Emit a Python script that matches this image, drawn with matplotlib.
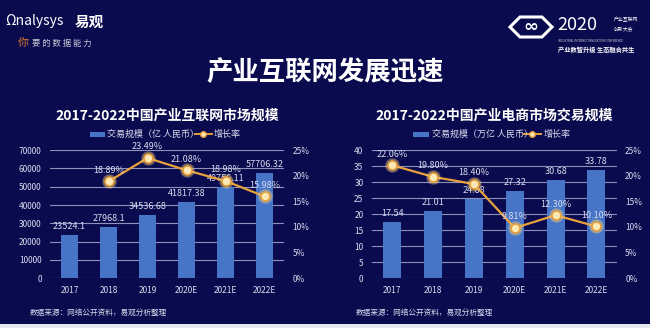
import matplotlib
matplotlib.use("Agg")
import matplotlib.pyplot as plt
from matplotlib.patches import Rectangle, Polygon
import numpy as np

plt.rcParams['font.family'] = ['Noto Sans CJK SC', 'DejaVu Sans']

years = ['2017', '2018', '2019', '2020E', '2021E', '2022E']

# 产业互联网市场规模 (亿 人民币)
iot_values = [23524.1, 27968.1, 34536.68, 41817.38, 49756.11, 57706.32]
iot_labels = ['23524.1', '27968.1', '34536.68', '41817.38', '49756.11', '57706.32']
iot_growth = [None, 18.89, 23.49, 21.08, 18.98, 15.98]

# 产业电商市场交易规模 (万亿 人民币)
ec_values = [17.54, 21.01, 24.88, 27.32, 30.68, 33.78]
ec_labels = ['17.54', '21.01', '24.88', '27.32', '30.68', '33.78']
ec_growth = [22.06, 19.80, 18.40, 9.81, 12.30, 10.10]

BG = '#0a0b4e'
BAR = '#4674c6'
LINE = '#e9a23b'
TXT = '#d8dbee'
GRID = '#8d92bd'

W, H = 650, 328
fig = plt.figure(figsize=(6.5, 3.28), dpi=100)
fig.patch.set_facecolor(BG)

# light strip at bottom edge
fig.patches.append(Rectangle((0, 0), 1, 0.013, transform=fig.transFigure,
                             facecolor='#e6e8f0', edgecolor='none', zorder=0))


def draw_panel(rect, values, labels, growth, ymax, ystep, title, unit):
    ax = fig.add_axes(rect)
    ax.set_facecolor(BG)
    x = np.arange(len(years))
    ax.bar(x, values, width=0.44, color=BAR, zorder=2)
    ax.set_xlim(-0.5, len(years) - 0.5)
    ax.set_ylim(0, ymax)
    ax.set_yticks(np.arange(0, ymax + 1e-9, ystep))
    ax.yaxis.grid(True, color=GRID, linewidth=0.8, zorder=0)
    ax.set_axisbelow(True)
    ax.set_xticks(x)
    ax.set_xticklabels(years)
    for s in ax.spines.values():
        s.set_visible(False)
    ax.tick_params(length=0, colors=TXT, labelsize=6, pad=6)
    for xi, v, lab in zip(x, values, labels):
        ax.text(xi, v + ymax * 0.03, lab, ha='center', va='bottom',
                color=TXT, fontsize=6.5, zorder=5)

    ax2 = ax.twinx()
    ax2.set_ylim(0, 25)
    ax2.set_yticks([0, 5, 10, 15, 20, 25])
    ax2.set_yticklabels(['0%', '5%', '10%', '15%', '20%', '25%'])
    for s in ax2.spines.values():
        s.set_visible(False)
    ax2.tick_params(length=0, colors=TXT, labelsize=6, pad=6)
    gx = [xi for xi, g in zip(x, growth) if g is not None]
    gy = [g for g in growth if g is not None]
    ax2.plot(gx, gy, color=LINE, linewidth=1.6, zorder=3)
    ax2.plot(gx, gy, 'o', color='#ffd98a', markersize=9.5, alpha=0.3, zorder=4)
    ax2.plot(gx, gy, 'o', markerfacecolor='#fde9b5', markeredgecolor=LINE,
             markeredgewidth=1.2, markersize=6.5, zorder=5)
    for xi, g in zip(gx, gy):
        ax2.text(xi, g + 1.3, f'{g:.2f}%', ha='center', va='bottom',
                 color=TXT, fontsize=6.5, zorder=6)

    ax.text(0.5, 1.27, title, transform=ax.transAxes, ha='center', va='center',
            color='white', fontsize=10, fontweight='bold')
    # legend
    ax.add_patch(Rectangle((0.17, 1.105), 0.065, 0.04, transform=ax.transAxes,
                           facecolor=BAR, edgecolor='none', clip_on=False))
    ax.text(0.245, 1.125, unit, transform=ax.transAxes, ha='left', va='center',
            color=TXT, fontsize=6.5)
    ax.plot([0.62, 0.69], [1.125, 1.125], color=LINE, linewidth=1.4,
            transform=ax.transAxes, clip_on=False)
    ax.plot([0.655], [1.125], 'o', markerfacecolor='#fde9b5', markeredgecolor=LINE,
            markersize=4, transform=ax.transAxes, clip_on=False)
    ax.text(0.70, 1.125, '增长率', transform=ax.transAxes, ha='left', va='center',
            color=TXT, fontsize=6.5)
    return ax


draw_panel([0.077, 0.152, 0.36, 0.39], iot_values, iot_labels, iot_growth,
           70000, 10000, '2017-2022中国产业互联网市场规模', '交易规模（亿 人民币）')
draw_panel([0.572, 0.152, 0.377, 0.39], ec_values, ec_labels, ec_growth,
           40, 5, '2017-2022中国产业电商市场交易规模', '交易规模（万亿 人民币）')

# main title
fig.text(0.5, 0.78, '产业互联网发展迅速', ha='center', va='center',
         color='white', fontsize=19, fontweight='bold')

# sources
fig.text(0.045, 0.045, '数据来源：网络公开资料，易观分析整理', ha='left', va='center',
         color=TXT, fontsize=5.5)
fig.text(0.548, 0.045, '数据来源：网络公开资料，易观分析整理', ha='left', va='center',
         color=TXT, fontsize=5.5)

# top-left logo
fig.text(0.008, 0.935, 'Ωnalysys', ha='left', va='center', color='white',
         fontsize=10, style='italic')
fig.text(0.115, 0.935, '易观', ha='left', va='center', color='white',
         fontsize=10.5, fontweight='bold')
fig.text(0.028, 0.868, '你', ha='left', va='center', color='#d9782a',
         fontsize=8, style='italic')
fig.text(0.05, 0.868, '要 的 数 据 能 力', ha='left', va='center', color='#c9c9d6',
         fontsize=6, style='italic')

# top-right logo
cx, cy = 531, 27
hexagon = [(-21, 0), (-11, -10), (11, -10), (21, 0), (11, 10), (-11, 10)]
fig.patches.append(Polygon([((cx + dx) / W, 1 - (cy + dy) / H) for dx, dy in hexagon],
                           closed=True, transform=fig.transFigure,
                           facecolor='none', edgecolor='white', linewidth=2.2))
fig.text(cx / W, 1 - cy / H, '∞', ha='center', va='center', color='white',
         fontsize=13, fontweight='bold', family=['DejaVu Sans'])
fig.text(0.858, 0.925, '2020', ha='left', va='center', color='white', fontsize=13)
fig.text(0.945, 0.94, '产业互联网', ha='left', va='center', color='white', fontsize=3.5)
fig.text(0.945, 0.912, '创新大会', ha='left', va='center', color='white', fontsize=3.5)
fig.text(0.858, 0.875, 'INDUSTRIAL INTERNET INNOVATION CONFERENCE', ha='left',
         va='center', color='#c9c9d6', fontsize=2)
fig.text(0.858, 0.85, '产业数智升级 生态融合共生', ha='left', va='center',
         color='white', fontsize=4.5, fontweight='bold')

fig.savefig('out.png', dpi=100, facecolor=fig.get_facecolor())
